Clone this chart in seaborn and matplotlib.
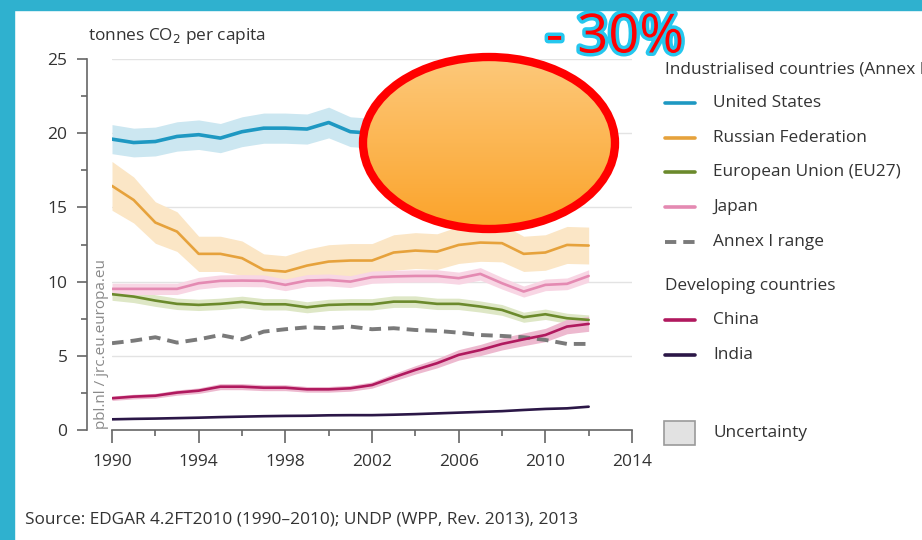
import numpy as np
import pandas as pd
import matplotlib
matplotlib.use("Agg")
import matplotlib.pyplot as plt
import seaborn as sns
from matplotlib.patches import Ellipse, Rectangle
from matplotlib.lines import Line2D
from matplotlib.colors import LinearSegmentedColormap
import matplotlib.patheffects as pe

# ---------------- data ----------------
years = list(range(1990, 2013))
united_states = [19.6, 19.37, 19.44, 19.78, 19.9, 19.67, 20.1, 20.34, 20.34, 20.28, 20.72, 20.1,
                 20.0, 19.9, 20.0, 19.9, 19.5, 19.6, 18.9, 17.4, 17.8, 17.2, 16.4]
russia = [16.45, 15.5, 13.98, 13.37, 11.87, 11.87, 11.58, 10.79, 10.67, 11.08, 11.35, 11.42,
          11.42, 11.96, 12.09, 12.02, 12.47, 12.63, 12.59, 11.87, 11.96, 12.47, 12.43]
eu27 = [9.15, 8.99, 8.72, 8.5, 8.43, 8.5, 8.63, 8.47, 8.47, 8.27, 8.43, 8.47,
        8.47, 8.65, 8.65, 8.5, 8.5, 8.32, 8.09, 7.6, 7.8, 7.53, 7.42]
japan = [9.51, 9.51, 9.51, 9.51, 9.89, 10.05, 10.07, 10.05, 9.78, 10.07, 10.11, 10.0,
         10.3, 10.35, 10.38, 10.38, 10.23, 10.52, 9.89, 9.33, 9.78, 9.85, 10.38]
annex_range = [5.85, 6.02, 6.25, 5.89, 6.11, 6.4, 6.11, 6.63, 6.79, 6.92, 6.86, 6.97,
               6.79, 6.86, 6.74, 6.68, 6.56, 6.4, 6.34, 6.25, 6.07, 5.8, 5.8]
china = [2.14, 2.25, 2.31, 2.52, 2.65, 2.92, 2.92, 2.85, 2.85, 2.74, 2.74, 2.81,
         3.03, 3.55, 4.05, 4.5, 5.06, 5.39, 5.8, 6.11, 6.4, 6.97, 7.15]
india = [0.72, 0.75, 0.77, 0.80, 0.83, 0.87, 0.90, 0.93, 0.95, 0.96, 0.99, 1.0,
         1.0, 1.03, 1.07, 1.12, 1.17, 1.22, 1.27, 1.35, 1.42, 1.46, 1.57]

series_names = ["United States", "Russian Federation", "European Union (EU27)", "Japan",
                "Annex I range", "China", "India"]
series_values = [united_states, russia, eu27, japan, annex_range, china, india]
# relative uncertainty (half band width as fraction of value)
rel_uncertainty = [0.05, 0.10, 0.045, 0.04, 0.0, 0.07, 0.0]

x_ticks = [1990, 1994, 1998, 2002, 2006, 2010, 2014]
y_ticks = [0, 5, 10, 15, 20, 25]

line_colors = ["#1E98C2", "#E6A23C", "#6B8A2C", "#E48AB2", "#7A7A7A", "#B0195E", "#2B1747"]
band_colors = ["#CCE7F1", "#FBE6C6", "#DEE7C6", "#F8D6E4", None, "#EDB9CF", None]

# ---------------- figure ----------------
W, H = 922, 540
sns.set_theme(style="white")
plt.rcParams["font.family"] = ["Open Sans", "DejaVu Sans"]
fig = plt.figure(figsize=(W / 100, H / 100), dpi=100)
fig.patch.set_facecolor("white")

def fx(px):
    return px / W

def fy(py):
    return 1 - py / H

# blue border strips
fig.patches.append(Rectangle((0, fy(10)), 1, 10 / H, transform=fig.transFigure,
                             color="#2FB1CF", zorder=0))
fig.patches.append(Rectangle((0, 0), 14 / W, 1, transform=fig.transFigure,
                             color="#2FB1CF", zorder=0))

ax = fig.add_axes([fx(112), fy(430), fx(632) - fx(112), (430 - 59) / H])
ax.set_facecolor("none")

rows = []
for name, vals in zip(series_names, series_values):
    for yr, v in zip(years, vals):
        rows.append({"year": yr, "value": v, "series": name})
df = pd.DataFrame(rows)

# grid lines
for yv in y_ticks[1:]:
    ax.axhline(yv, color="#E3E3E3", lw=1.0, zorder=0)

# bands
for name, vals, ru, bc in zip(series_names, series_values, rel_uncertainty, band_colors):
    if bc is None or ru == 0:
        continue
    v = np.array(vals)
    ax.fill_between(years, v * (1 - ru), v * (1 + ru), color=bc, lw=0, zorder=1)

# lines
for name, lc in zip(series_names, line_colors):
    sub = df[df["series"] == name]
    lw = 2.6 if name == "United States" else (2.8 if name == "Annex I range" else 1.9)
    sns.lineplot(data=sub, x="year", y="value", color=lc, lw=lw, ax=ax, zorder=3,
                 legend=False)
    if name == "Annex I range":
        ax.lines[-1].set_dashes([3.0, 1.8])

ax.set_xlim(1990, 2014)
ax.set_ylim(0, 25)
ax.set_xlabel("")
ax.set_ylabel("")
for s in ["top", "right"]:
    ax.spines[s].set_visible(False)
ax.spines["left"].set_position(("outward", 18))
ax.spines["left"].set_bounds(0, 25)
ax.spines["bottom"].set_bounds(1990, 2014)
for s in ["left", "bottom"]:
    ax.spines[s].set_color("#666666")
    ax.spines[s].set_linewidth(1.2)

ax.set_xticks(x_ticks)
ax.set_xticks(list(range(1992, 2014, 4)), minor=True)
ax.set_yticks(y_ticks)
ax.set_yticks([2.5, 7.5, 12.5, 17.5, 22.5], minor=True)
ax.set_xticklabels([str(t) for t in x_ticks])
ax.set_yticklabels([str(t) for t in y_ticks])
ax.tick_params(axis="x", which="major", direction="out", length=9, width=1.2, color="#666666",
               pad=8, labelsize=12.5, labelcolor="#333333", bottom=True)
ax.tick_params(axis="x", which="minor", direction="out", length=4, width=1.2, color="#666666",
               bottom=True)
ax.tick_params(axis="y", which="major", direction="out", length=7, width=1.2, color="#666666",
               pad=7, labelsize=12.5, labelcolor="#333333", left=True)
ax.tick_params(axis="y", which="minor", direction="out", length=4, width=1.2, color="#666666",
               left=True)

# axis title
fig.text(fx(88), fy(36), "tonnes CO$_2$ per capita", fontsize=12.4, color="#333333",
         ha="left", va="center")
# watermark
fig.text(fx(101), fy(429), "pbl.nl / jrc.eu.europa.eu", fontsize=11, color="#8A8A8A",
         rotation=90, ha="center", va="bottom")
# source
fig.text(fx(25), fy(520), "Source: EDGAR 4.2FT2010 (1990–2010); UNDP (WPP, Rev. 2013), 2013",
         fontsize=12.4, color="#333333", ha="left", va="center")

# legend (manual)
leg_items = [
    ("head", "Industrialised countries (Annex I)", 70),
    ("line", "United States", 103),
    ("line", "Russian Federation", 138),
    ("line", "European Union (EU27)", 172),
    ("line", "Japan", 207),
    ("dash", "Annex I range", 242),
    ("head", "Developing countries", 286),
    ("line", "China", 320),
    ("line", "India", 355),
]
color_map = dict(zip(series_names, line_colors))
for kind, label, ypx in leg_items:
    if kind == "head":
        fig.text(fx(665), fy(ypx), label, fontsize=12.4, color="#333333", ha="left", va="center")
    else:
        c = color_map[label]
        ln = Line2D([fx(665), fx(695)], [fy(ypx), fy(ypx)], transform=fig.transFigure,
                    color=c, lw=2.6)
        if kind == "dash":
            ln.set_linewidth(2.8)
            ln.set_dashes([2.9, 1.8])
        fig.lines.append(ln)
        fig.text(fx(713), fy(ypx), label, fontsize=12.4, color="#333333", ha="left", va="center")
fig.patches.append(Rectangle((fx(664), fy(445)), 31 / W, 24 / H, transform=fig.transFigure,
                             facecolor="#E2E2E2", edgecolor="#9A9A9A", lw=1.2))
fig.text(fx(713), fy(433), "Uncertainty", fontsize=12.4, color="#333333", ha="left", va="center")

# overlay: orange ellipse and "- 30%"
ov = fig.add_axes([0, 0, 1, 1])
ov.set_xlim(0, W)
ov.set_ylim(H, 0)
ov.axis("off")
ov.patch.set_alpha(0)
cx, cy, ew, eh = 489, 143, 252, 172
ell_clip = Ellipse((cx, cy), ew, eh, transform=ov.transData, facecolor="none", edgecolor="none")
ov.add_patch(ell_clip)
grad = np.linspace(0, 1, 256).reshape(-1, 1)
cmap = LinearSegmentedColormap.from_list("og", ["#FDC97B", "#FBA32A"])
im = ov.imshow(grad, cmap=cmap, aspect="auto",
               extent=(cx - ew / 2, cx + ew / 2, cy + eh / 2, cy - eh / 2), zorder=5)
im.set_clip_path(ell_clip)
ov.add_patch(Ellipse((cx, cy), ew, eh, facecolor="none", edgecolor="#FF0000", lw=6, zorder=6))
ov.set_xlim(0, W)
ov.set_ylim(H, 0)
t = ov.text(615, 38, "- 30%", fontsize=39, color="#FF0000", ha="center", va="center",
            zorder=7, family=["Open Sans", "DejaVu Sans"])
t.set_path_effects([pe.Stroke(linewidth=5, foreground="#25C7EE"), pe.Normal()])

fig.savefig("out.png", dpi=100)
